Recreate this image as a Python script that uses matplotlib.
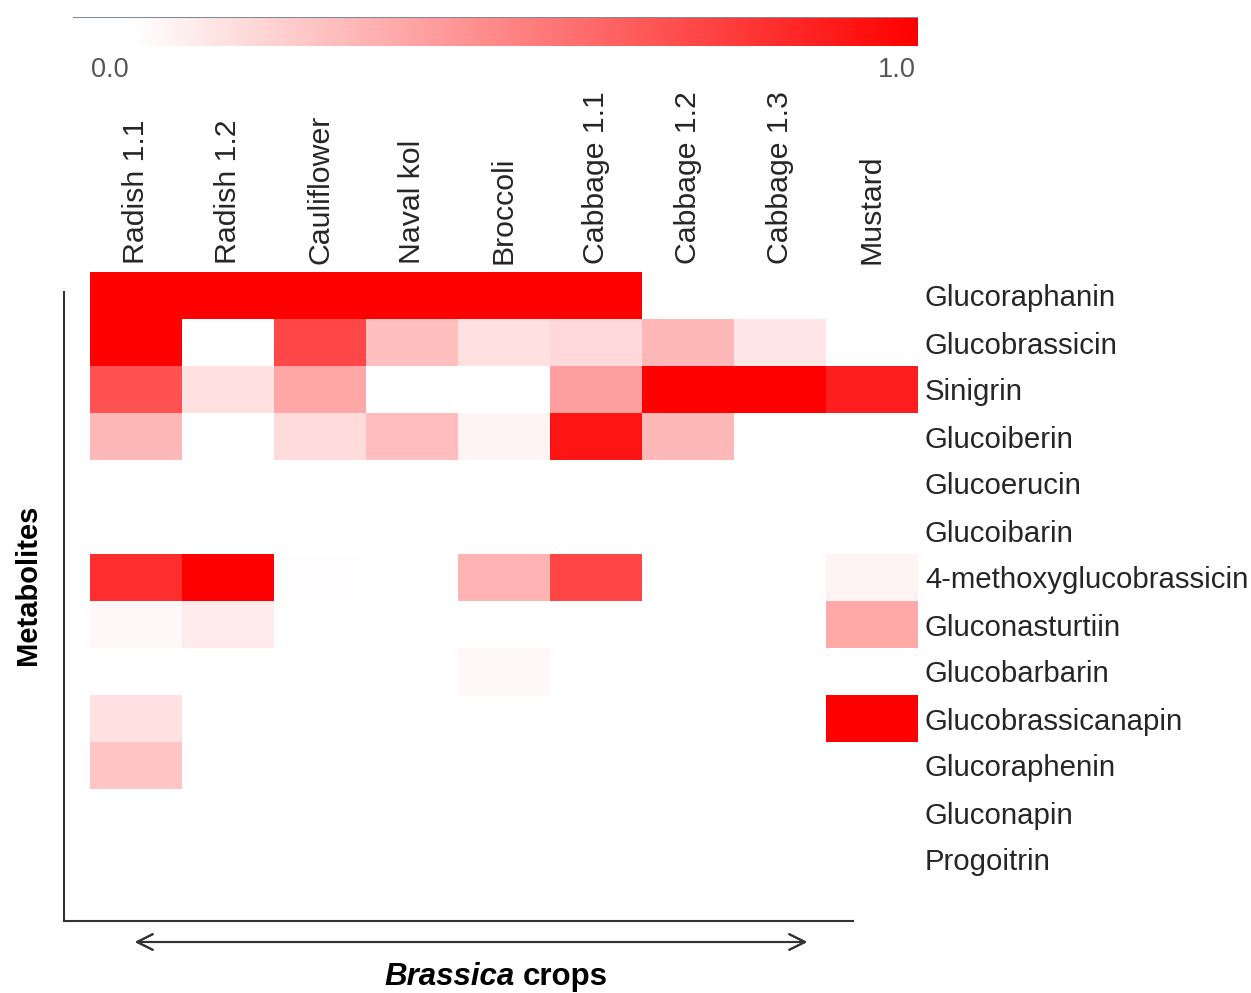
import numpy as np
import matplotlib
matplotlib.use("Agg")
import matplotlib.pyplot as plt
from matplotlib.colors import LinearSegmentedColormap
from matplotlib.lines import Line2D

# -----------------------------
# Data (relative abundance, 0-1)
# -----------------------------
crops = ["Radish 1.1", "Radish 1.2", "Cauliflower", "Naval kol", "Broccoli",
         "Cabbage 1.1", "Cabbage 1.2", "Cabbage 1.3", "Mustard"]

metabolites = ["Glucoraphanin", "Glucobrassicin", "Sinigrin", "Glucoiberin",
               "Glucoerucin", "Glucoibarin", "4-methoxyglucobrassicin",
               "Gluconasturtiin", "Glucobarbarin", "Glucobrassicanapin",
               "Glucoraphenin", "Gluconapin", "Progoitrin"]

glucoraphanin      = [1.00, 1.00, 1.00, 1.00, 1.00, 1.00, 0.00, 0.00, 0.00]
glucobrassicin     = [1.00, 0.00, 0.72, 0.25, 0.12, 0.15, 0.28, 0.10, 0.00]
sinigrin           = [0.68, 0.12, 0.35, 0.00, 0.00, 0.38, 1.00, 1.00, 0.88]
glucoiberin        = [0.28, 0.00, 0.14, 0.26, 0.05, 0.92, 0.28, 0.00, 0.00]
glucoerucin        = [0.00, 0.00, 0.00, 0.00, 0.00, 0.00, 0.00, 0.00, 0.00]
glucoibarin        = [0.00, 0.00, 0.00, 0.00, 0.00, 0.00, 0.00, 0.00, 0.00]
methoxyglucobrass  = [0.82, 1.00, 0.01, 0.00, 0.30, 0.73, 0.00, 0.00, 0.05]
gluconasturtiin    = [0.03, 0.08, 0.00, 0.00, 0.00, 0.00, 0.00, 0.00, 0.34]
glucobarbarin      = [0.00, 0.00, 0.00, 0.00, 0.03, 0.00, 0.00, 0.00, 0.00]
glucobrassicanapin = [0.12, 0.00, 0.00, 0.00, 0.00, 0.00, 0.00, 0.00, 1.00]
glucoraphenin      = [0.23, 0.00, 0.00, 0.00, 0.00, 0.00, 0.00, 0.00, 0.00]
gluconapin         = [0.00, 0.00, 0.00, 0.00, 0.00, 0.00, 0.00, 0.00, 0.00]
progoitrin         = [0.00, 0.00, 0.00, 0.00, 0.00, 0.00, 0.00, 0.00, 0.00]

data = np.array([glucoraphanin, glucobrassicin, sinigrin, glucoiberin,
                 glucoerucin, glucoibarin, methoxyglucobrass, gluconasturtiin,
                 glucobarbarin, glucobrassicanapin, glucoraphenin, gluconapin,
                 progoitrin])

# -----------------------------
# Style
# -----------------------------
plt.rcParams["font.family"] = ["Liberation Sans", "DejaVu Sans"]
cmap = LinearSegmentedColormap.from_list("wr", ["#ffffff", "#ff0000"])
text_col = "#262626"

W, H = 1251, 993
fig = plt.figure(figsize=(W / 100, H / 100), dpi=100)


def fax(x0, y0, x1, y1):
    # pixel box (top-left origin) -> figure axes
    return fig.add_axes([x0 / W, 1 - y1 / H, (x1 - x0) / W, (y1 - y0) / H])


# -----------------------------
# Heatmap
# -----------------------------
ax = fax(90, 272, 918, 883)
ax.imshow(data, cmap=cmap, vmin=0, vmax=1, aspect="auto", interpolation="nearest")
ax.xaxis.tick_top()
ax.set_xticks(np.arange(len(crops)))
ax.set_xticklabels(crops, rotation=90, fontsize=21.8, color=text_col)
ax.yaxis.tick_right()
ax.set_yticks(np.arange(len(metabolites)))
ax.set_yticklabels(metabolites, fontsize=21.2, color=text_col)
ax.tick_params(axis="x", length=0, pad=6)
ax.tick_params(axis="y", length=0, pad=5)
for s in ax.spines.values():
    s.set_visible(False)

# -----------------------------
# Colour scale (top)
# -----------------------------
cax = fax(73, 17, 918, 46)
grad = np.clip((np.linspace(0, 1, 512) - 0.07) / 0.93, 0, 1)[None, :]
cax.imshow(grad, cmap=cmap, vmin=0, vmax=1, aspect="auto", extent=(0, 1, 0, 1))
cax.set_xlim(0, 1)
cax.set_ylim(0, 1)
cax.axis("off")
cax.axhline(1, color="#7d8a96", lw=1.5)
fig.text(110 / W, 1 - 70 / H, "0.0", ha="center", va="center", fontsize=19.5, color="#555555")
fig.text(897 / W, 1 - 70 / H, "1.0", ha="center", va="center", fontsize=19.5, color="#555555")

# -----------------------------
# Frame lines, arrow and axis titles
# -----------------------------
fig.add_artist(Line2D([64 / W, 64 / W], [1 - 292 / H, 1 - 921 / H], color="#333333", lw=1.5))
fig.add_artist(Line2D([64 / W, 853 / W], [1 - 921 / H, 1 - 921 / H], color="#333333", lw=1.5))

fig.add_artist(plt.annotate("", xy=(810 / W, 1 - 942 / H), xytext=(132 / W, 1 - 942 / H),
                            xycoords="figure fraction", textcoords="figure fraction",
                            arrowprops=dict(arrowstyle="<->", color="#333333", lw=1.5,
                                            mutation_scale=28)))

fig.text(28 / W, 1 - 585 / H, "Metabolites", rotation=90, ha="center", va="center",
         fontsize=21, fontweight="bold", color="black")
fig.text(515 / W, 1 - 977 / H, "Brassica", ha="right", va="center",
         fontsize=22.5, fontweight="bold", fontstyle="italic", color="black")
fig.text(523 / W, 1 - 977 / H, "crops", ha="left", va="center",
         fontsize=22.5, fontweight="bold", color="black")

plt.savefig("out.png", dpi=100)
